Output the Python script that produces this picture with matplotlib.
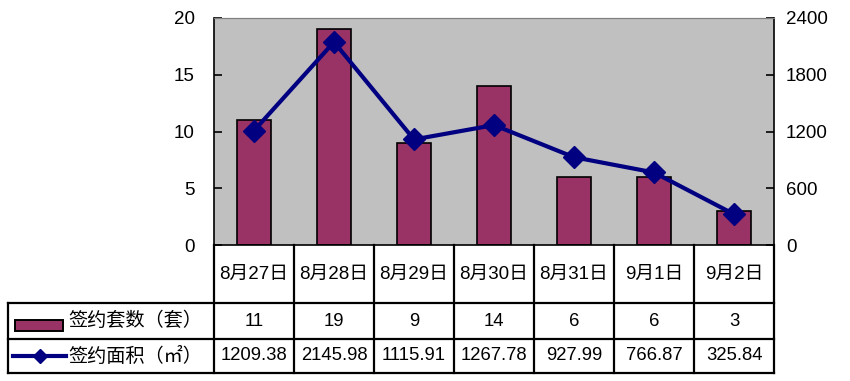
import matplotlib
matplotlib.use("Agg")
import matplotlib.pyplot as plt
from matplotlib.patches import Rectangle
from matplotlib.lines import Line2D

plt.rcParams['font.family'] = ['Liberation Sans', 'Noto Sans CJK SC', 'DejaVu Sans']

# Data
dates = ['8月27日', '8月28日', '8月29日', '8月30日', '8月31日', '9月1日', '9月2日']
units = [11, 19, 9, 14, 6, 6, 3]
area = [1209.38, 2145.98, 1115.91, 1267.78, 927.99, 766.87, 325.84]
unit_label = '签约套数（套）'
area_label = '签约面积（㎡）'

BAR_COLOR = '#993366'
LINE_COLOR = '#000080'
W, H = 850, 381

fig = plt.figure(figsize=(8.5, 3.81), dpi=100)

# main plot area (pixels: x 214-774, y 18-245)
ax = fig.add_axes([214 / W, 1 - 245 / H, 560 / W, 227 / H])
ax.set_facecolor('#C0C0C0')
x = range(len(dates))
ax.bar(x, units, width=0.42, color=BAR_COLOR, edgecolor='black', linewidth=1.2, zorder=2)
ax.set_xlim(-0.5, len(dates) - 0.5)
ax.set_ylim(0, 20)
ax.set_yticks([0, 5, 10, 15, 20])
ax.set_xticks([])
ax.tick_params(axis='y', direction='in', length=6, width=1.2, labelsize=13.5, pad=14)
for s in ['left', 'bottom']:
    ax.spines[s].set_linewidth(1.2)
ax.spines['top'].set_color('#808080')
ax.spines['right'].set_visible(False)

ax2 = ax.twinx()
ax2.plot(x, area, color=LINE_COLOR, linewidth=3, marker='D', markersize=11.5, zorder=3)
ax2.set_ylim(0, 2400)
ax2.set_yticks([0, 600, 1200, 1800, 2400])
ax2.tick_params(axis='y', direction='in', length=6, width=1.2, labelsize=13.5, pad=8.5)
ax2.spines['right'].set_linewidth(1.2)
ax2.spines['top'].set_color('#808080')
for s in ['left', 'bottom']:
    ax2.spines[s].set_visible(False)

# data table drawn in pixel coordinates
tb = fig.add_axes([0, 0, 1, 1], facecolor='none')
tb.set_xlim(0, W)
tb.set_ylim(H, 0)
tb.axis('off')

col_left = 214
col_w = 560 / len(dates)
y_top, y_r1, y_r2, y_bot = 245, 303, 339, 373
lw = 1.6

def hline(y, x0, x1):
    tb.add_line(Line2D([x0, x1], [y, y], color='black', linewidth=lw))

def vline(xp, y0, y1):
    tb.add_line(Line2D([xp, xp], [y0, y1], color='black', linewidth=lw))

hline(y_r1, 8, 774)
hline(y_r2, 8, 774)
hline(y_bot, 8, 774)
vline(8, y_r1, y_bot)
for i in range(len(dates) + 1):
    vline(col_left + i * col_w, y_top, y_bot)

fs = 13.3
for i, d in enumerate(dates):
    cx = col_left + (i + 0.5) * col_w
    tb.text(cx, (y_top + y_r1) / 2, d, ha='center', va='center', fontsize=13.5)
    tb.text(cx, (y_r1 + y_r2) / 2, str(units[i]), ha='center', va='center', fontsize=fs)
    tb.text(cx, (y_r2 + y_bot) / 2, f'{area[i]:.2f}', ha='center', va='center', fontsize=fs)

# legend keys inside the table
tb.add_patch(Rectangle((15, 320), 48, 11, facecolor=BAR_COLOR, edgecolor='black', linewidth=1.4))
tb.text(68, (y_r1 + y_r2) / 2, unit_label, ha='left', va='center', fontsize=13.8)
tb.add_line(Line2D([13, 66], [356, 356], color=LINE_COLOR, linewidth=3))
tb.add_line(Line2D([40], [356], color=LINE_COLOR, marker='D', markersize=7))
tb.text(68, (y_r2 + y_bot) / 2, area_label, ha='left', va='center', fontsize=13.8)

fig.savefig('out.png', dpi=100)
